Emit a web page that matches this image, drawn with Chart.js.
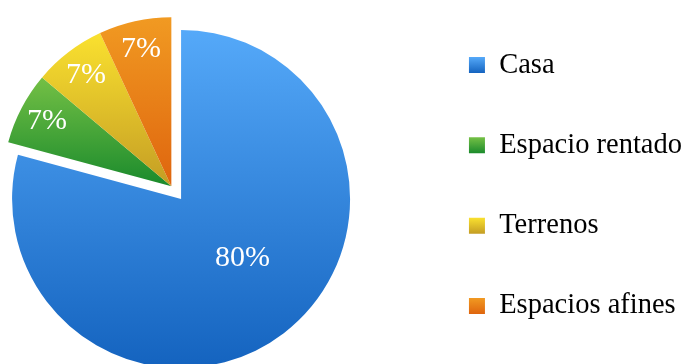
<!DOCTYPE html>
<html>
<head>
<meta charset="utf-8">
<script src="https://cdn.jsdelivr.net/npm/chart.js@4"></script>
<style>
  html, body { margin: 0; padding: 0; background: #fff; overflow: hidden; }
  #wrap { position: relative; width: 683px; height: 364px; overflow: hidden; }
  /* canvas is a bit larger than the window so the pie can run off the bottom edge */
  #box { position: absolute; left: -55px; top: -1px; width: 750px; height: 400px; }
</style>
</head>
<body>
<div id="wrap"><div id="box"><canvas id="pieChart"></canvas></div></div>
<script>
const categories = ['Casa', 'Espacio rentado', 'Terrenos', 'Espacios afines'];
const values = [80, 7, 7, 7];
const percentLabels = ['80%', '7%', '7%', '7%'];

// look
const topColors = ['#55a9f9', '#74c045', '#fae12f', '#f19a22'];
const bottomColors = ['#1463bf', '#1a8a2c', '#c49d24', '#df650e'];
const explodedSlices = [1, 2, 3];
const explodeDist = 16;
const pieRadius = 169;
const labelRadius = [0.5, 0.83, 0.83, 0.83];
const labelNudge = [[10, -8], [0, 0], [0, 0], [0, 0]];
const serif = '"Liberation Serif", "DejaVu Serif", serif';

// the three small slices are pulled out together, along their common bisector
function groupShift(meta) {
  const first = meta.data[explodedSlices[0]];
  const last = meta.data[explodedSlices[explodedSlices.length - 1]];
  const mid = (first.startAngle + last.endAngle) / 2;
  return { dx: Math.cos(mid) * explodeDist, dy: Math.sin(mid) * explodeDist };
}

function sliceExtent(arc) {
  let minY = arc.y, maxY = arc.y;
  for (let k = 0; k <= 64; k++) {
    const a = arc.startAngle + (arc.endAngle - arc.startAngle) * k / 64;
    const y = arc.y + Math.sin(a) * arc.outerRadius;
    minY = Math.min(minY, y);
    maxY = Math.max(maxY, y);
  }
  return [minY, maxY];
}

const slicePlugin = {
  id: 'slices',
  beforeDatasetDraw(chart, args) {
    const meta = args.meta;
    meta.data.forEach((arc, i) => {
      if (arc.$patched) return;
      const baseDraw = arc.draw;
      arc.draw = function (ctx) {
        const s = explodedSlices.includes(i) ? groupShift(meta) : { dx: 0, dy: 0 };
        const [y0, y1] = sliceExtent(this);
        const grad = ctx.createLinearGradient(0, y0, 0, y1);
        grad.addColorStop(0, topColors[i]);
        grad.addColorStop(1, bottomColors[i]);
        const saved = this.options;
        this.options = Object.assign({}, saved, { backgroundColor: grad });
        ctx.save();
        ctx.translate(s.dx, s.dy);
        baseDraw.call(this, ctx);
        ctx.restore();
        this.options = saved;
      };
      arc.$patched = true;
    });
  },
  afterDatasetDraw(chart, args) {
    const meta = args.meta;
    const ctx = chart.ctx;
    ctx.save();
    ctx.fillStyle = '#fff';
    ctx.font = '30px ' + serif;
    ctx.textAlign = 'center';
    ctx.textBaseline = 'middle';
    meta.data.forEach((arc, i) => {
      const s = explodedSlices.includes(i) ? groupShift(meta) : { dx: 0, dy: 0 };
      const mid = (arc.startAngle + arc.endAngle) / 2;
      const r = arc.outerRadius * labelRadius[i];
      const x = arc.x + Math.cos(mid) * r + s.dx + labelNudge[i][0];
      const y = arc.y + Math.sin(mid) * r + s.dy + labelNudge[i][1];
      ctx.fillText(percentLabels[i], x, y);
    });
    ctx.restore();
  },
  beforeDraw(chart) {
    const legend = chart.legend;
    const box = legend.options.labels.boxHeight;
    legend.legendItems.forEach((item, i) => {
      const hb = legend.legendHitBoxes[i];
      const top = hb.top + (hb.height - box) / 2;
      const g = chart.ctx.createLinearGradient(0, top, 0, top + box);
      g.addColorStop(0, topColors[i]);
      g.addColorStop(1, bottomColors[i]);
      item.fillStyle = g;
      item.lineWidth = 0;
    });
  }
};

new Chart(document.getElementById('pieChart'), {
  type: 'pie',
  data: {
    labels: categories,
    datasets: [{
      data: values,
      backgroundColor: topColors,
      borderWidth: 0,
      radius: pieRadius
    }]
  },
  options: {
    responsive: true,
    maintainAspectRatio: false,
    animation: false,
    layout: { padding: { left: 0, right: 3, top: 0, bottom: 0 } },
    plugins: {
      tooltip: { enabled: false },
      legend: {
        position: 'right',
        align: 'start',
        labels: {
          font: { family: serif, size: 28.5 },
          color: '#000',
          boxWidth: 16,
          boxHeight: 16,
          padding: 51.8
        }
      }
    }
  },
  plugins: [slicePlugin]
});
</script>
</body>
</html>
